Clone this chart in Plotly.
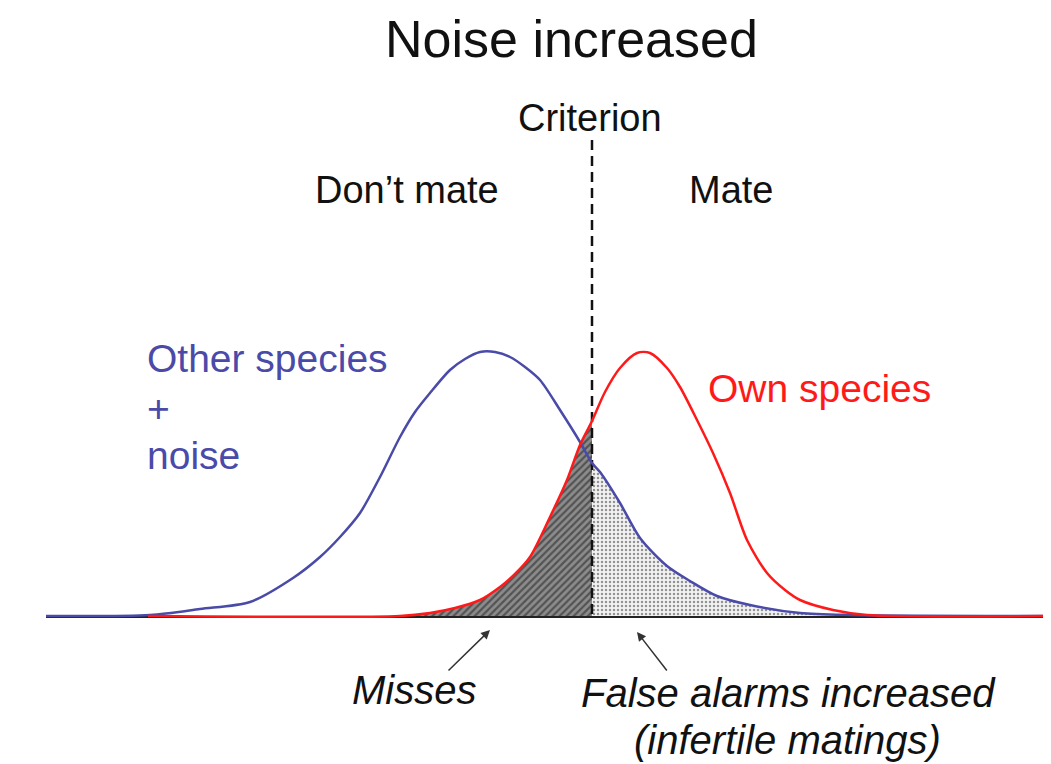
import numpy as np
import plotly.graph_objects as go

# ---- data (x = stimulus position, y = height above baseline) ----
blue_x = [46, 150, 200, 250, 293, 320, 340, 360, 380, 400, 415, 430, 450, 465, 480, 495, 510, 525, 540, 560, 580, 592, 600, 620, 640, 667, 690, 717, 750, 800, 850, 1051]
blue_y = [1, 2, 8, 15, 39, 60, 80, 104, 140, 180, 205, 224, 247, 258, 265, 265, 260, 250, 237, 207, 175, 154, 145, 114, 79, 51, 36, 21, 12, 4, 2, 1]

red_x = [148, 400, 430, 455, 480, 500, 515, 530, 550, 567, 580, 592, 605, 620, 637, 650, 667, 680, 697, 713, 730, 747, 767, 785, 800, 833, 867, 1051]
red_y = [1, 1, 4, 9, 17, 30, 43, 60, 100, 137, 172, 196, 225, 249, 264, 264, 249, 230, 197, 164, 124, 77, 44, 27, 17, 7, 2, 1]

criterion_x = 592
criterion_top = 477
baseline_x = [46, 1051]

BLUE = "#4a4aa8"
RED = "#ff1a1a"
FONT = "Liberation Sans, Arial, sans-serif"

fig = go.Figure()

bx = np.array(blue_x, dtype=float)
by = np.array(blue_y, dtype=float)
rx = np.array(red_x, dtype=float)
ry = np.array(red_y, dtype=float)

# Misses: under own-species curve, left of criterion
m = (rx >= 400) & (rx <= criterion_x)
fig.add_trace(go.Scatter(
    x=list(rx[m]), y=list(ry[m]),
    mode="lines", line=dict(width=0, shape="spline", smoothing=0.8),
    fill="tozeroy", fillcolor="rgba(0,0,0,0)",
    fillpattern=dict(shape="/", fgcolor="#1a1a1a", bgcolor="#8c8c8c", size=5, solidity=0.45),
    hoverinfo="skip", showlegend=False))

# False alarms: under other-species curve, right of criterion
f = bx >= criterion_x
fig.add_trace(go.Scatter(
    x=list(bx[f]), y=list(by[f]),
    mode="lines", line=dict(width=0, shape="spline", smoothing=0.8),
    fill="tozeroy", fillcolor="rgba(0,0,0,0)",
    fillpattern=dict(shape=".", fgcolor="#333333", bgcolor="#f2f2f2", size=4, solidity=0.3),
    hoverinfo="skip", showlegend=False))

# baseline
fig.add_trace(go.Scatter(x=baseline_x, y=[0, 0], mode="lines",
                         line=dict(color="#222222", width=2), hoverinfo="skip", showlegend=False))

# criterion
fig.add_trace(go.Scatter(x=[criterion_x, criterion_x], y=[criterion_top, 0], mode="lines",
                         line=dict(color="#111111", width=2.5, dash="10px,6px"),
                         hoverinfo="skip", showlegend=False))

# curves
fig.add_trace(go.Scatter(x=blue_x, y=blue_y, mode="lines",
                         line=dict(color=BLUE, width=2.5, shape="spline", smoothing=0.8),
                         hoverinfo="skip", showlegend=False))
fig.add_trace(go.Scatter(x=red_x, y=red_y, mode="lines",
                         line=dict(color=RED, width=2.5, shape="spline", smoothing=0.8),
                         hoverinfo="skip", showlegend=False))

def txt(x, y, s, size, color="#111111", italic=False, xanchor="center"):
    fig.add_annotation(x=x, y=y, text=s, showarrow=False, xanchor=xanchor, yanchor="middle",
                       font=dict(family=FONT, size=size, color=color,
                                 style="italic" if italic else "normal"))

txt(571, 617 - 39, "Noise increased", 52)
txt(590, 617 - 118, "Criterion", 38)
txt(407, 617 - 190, "Don’t mate", 38)
txt(731, 617 - 190, "Mate", 38)
txt(145, 617 - 358, "Other species", 39, BLUE, xanchor="left")
txt(145, 617 - 408, "+", 39, BLUE, xanchor="left")
txt(145, 617 - 455, "noise", 39, BLUE, xanchor="left")
txt(706, 617 - 388, "Own species", 39, RED, xanchor="left")
txt(414, 617 - 690, "Misses", 40, italic=True)
txt(788, 617 - 693, "False alarms increased", 40, italic=True)
txt(787, 617 - 740, "(infertile matings)", 40, italic=True)

# arrows
for hx, hy, tx, ty in [(490, 617 - 630, 447, 617 - 672), (637, 617 - 632, 668, 617 - 672)]:
    fig.add_annotation(x=hx, y=hy, ax=tx, ay=ty, axref="x", ayref="y", xref="x", yref="y",
                       showarrow=True, arrowhead=2, arrowsize=1.2, arrowwidth=1.5,
                       arrowcolor="#333333", text="")

# page body has an 8px margin: offset the axis ranges so marks land at the reference positions
OFF = 8
fig.update_layout(
    width=1051, height=764,
    margin=dict(l=0, r=0, t=0, b=0),
    paper_bgcolor="white", plot_bgcolor="white",
    xaxis=dict(range=[OFF, 1051 + OFF], visible=False, fixedrange=True),
    yaxis=dict(range=[617 - OFF - 764, 617 - OFF], visible=False, fixedrange=True),
    showlegend=False,
)

fig.write_html("out.html")
